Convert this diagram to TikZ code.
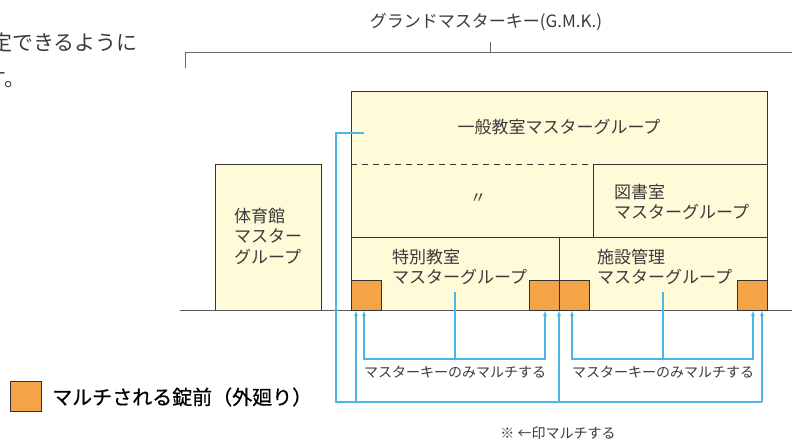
\documentclass[tikz,border=0pt]{standalone}
\usepackage{fontspec}
\setmainfont{Noto Sans CJK JP}
\newfontfamily\jpmed[FakeBold=0.6]{Noto Sans CJK JP}
\usetikzlibrary{arrows.meta,calc}
\definecolor{cream}{HTML}{FFFBD9}
\definecolor{lockor}{HTML}{F3A448}
\definecolor{keyblue}{HTML}{4DB6E6}
\definecolor{ink}{HTML}{3A3A3A}
\definecolor{edge}{HTML}{333333}
\tikzset{
  zone/.style={draw=edge, line width=0.9pt, fill=cream, inner sep=0pt, outer sep=0pt, anchor=north west},
  lockbox/.style={draw=edge, line width=0.9pt, fill=lockor, inner sep=0pt, outer sep=0pt, anchor=north west, minimum width=30pt, minimum height=30pt},
  lbl/.style={text=ink, inner sep=0pt, font=\fontsize{17}{20.5}\selectfont},
  small/.style={text=ink, inner sep=0pt, font=\fontsize{14}{16}\selectfont},
  bl/.style={draw=keyblue, line width=1.1pt},
  arr/.style={bl, -{Latex[length=6pt,width=4pt]}},
  arrs/.style={bl, {Latex[length=6pt,width=4pt]}-{Latex[length=6pt,width=4pt]}},
}
\begin{document}
\begin{tikzpicture}[x=1pt,y=-1pt]
\useasboundingbox (0,0) rectangle (792,439);
% top-left cropped text
\node[lbl, anchor=east, font=\fontsize{21}{24}\selectfont] (tl1) at (138,43) {定できるように};
\node[lbl, anchor=east, font=\fontsize{21}{24}\selectfont] (tl2) at (26,79) {す。};
% grand master key bracket
\node[small, font=\fontsize{17}{20}\selectfont] (gmk) at (486,22) {グランドマスターキー(G.M.K.)};
\coordinate (gl) at (185,52);
\coordinate (gr) at (792,52);
\coordinate (gt) at (490,52);
\draw[draw=gray!80!black, line width=0.9pt] ($(gl)+(0,16)$) -- (gl) -- (gr);
\draw[draw=gray!80!black, line width=0.9pt] (gt) -- ++(0,-10);
% ground line
\coordinate (g0) at (180,310);
\coordinate (g1) at (792,310);
% zones
\node[zone, minimum width=416pt, minimum height=219pt] (gen) at (351,91) {};
\node[zone, minimum width=174pt, minimum height=73pt] (lib) at (593,164) {};
\node[zone, minimum width=208pt, minimum height=73pt] (spe) at (351,237) {};
\node[zone, minimum width=208pt, minimum height=73pt] (fac) at (559,237) {};
\node[zone, minimum width=106pt, minimum height=146pt] (gym) at (215,164) {};
\draw[draw=edge, line width=0.9pt, dash pattern=on 6pt off 5pt] (gen.west |- lib.north west) -- (lib.north west);
\draw[draw=gray!70!black, line width=1pt] (g0) -- (g1);
% locks
\node[lockbox] (L1) at (351,280) {};
\node[lockbox] (L2) at (529,280) {};
\node[lockbox] (L3) at (559,280) {};
\node[lockbox] (L4) at (737,280) {};
% labels
\node[lbl] (tgen) at (559,127) {一般教室マスターグループ};
\node[lbl, font=\fontsize{16}{18}\selectfont] (ditto) at (478,199) {〃};
\node[lbl, align=left, anchor=west] (tlib) at (614,202) {図書室\\マスターグループ};
\node[lbl, align=left, anchor=west] (tspe) at (392,267) {特別教室\\マスターグループ};
\node[lbl, align=left, anchor=west] (tfac) at (597,267) {施設管理\\マスターグループ};
\node[lbl, align=left, anchor=west] (tgym) at (234,236) {体育館\\マスター\\グループ};
% outer (multi) key loop
\coordinate (os) at (364,133);
\coordinate (oc) at (336,133);
\coordinate (ob) at (336,402);
\coordinate (a1) at (356,402);
\coordinate (a2) at (559,402);
\coordinate (a3) at (762,402);
\draw[bl] (os) -- (oc) -- (ob) -- (a3);
\draw[arr] (a1) -- (a1 |- L1.south);
\draw[arr] (a2) -- (a2 |- L3.south);
\draw[arr] (a3) -- (a3 |- L4.south);
% inner loops
\coordinate (i1l) at (364,359);
\coordinate (i1r) at (545,359);
\coordinate (s1) at (455,292);
\draw[arrs] (i1l |- L1.south) -- (i1l) -- (i1r) -- (i1r |- L2.south);
\draw[bl] (s1) -- (s1 |- i1l);
\coordinate (i2l) at (572,359);
\coordinate (i2r) at (753,359);
\coordinate (s2) at (663,292);
\draw[arrs] (i2l |- L3.south) -- (i2l) -- (i2r) -- (i2r |- L4.south);
\draw[bl] (s2) -- (s2 |- i2l);
\node[small] (m1) at (455,372) {マスターキーのみマルチする};
\node[small] (m2) at (663,372) {マスターキーのみマルチする};
\node[small] (note) at (558,433) {※ ←印マルチする};
% legend
\node[lockbox, minimum width=31pt] (leg) at (10,381) {};
\node[inner sep=0pt, anchor=west, text=black, font=\fontsize{20}{24}\jpmed] (legt) at (52,397) {マルチされる錠前（外廻り）};
\end{tikzpicture}
\end{document}
